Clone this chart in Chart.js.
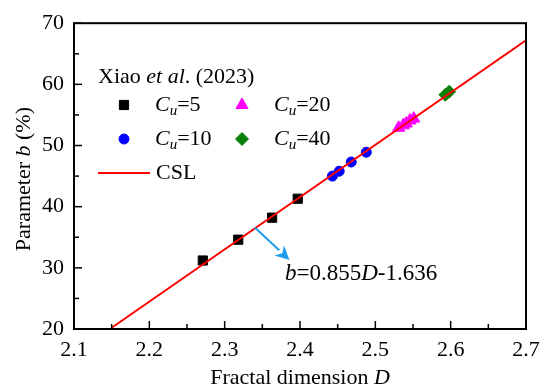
<!DOCTYPE html>
<html>
<head>
<meta charset="utf-8">
<script src="https://cdn.jsdelivr.net/npm/chart.js@4.4.1/dist/chart.umd.min.js"></script>
<style>
  html, body { margin: 0; padding: 0; background: #fff; }
  #wrap { width: 549px; height: 391px; }
</style>
</head>
<body>
<div id="wrap"><canvas id="chart" width="549" height="391"></canvas></div>
<script>
// data (D, b in %)
const cu5 = [
  { x: 2.271, y: 31.2 },
  { x: 2.318, y: 34.6 },
  { x: 2.363, y: 38.2 },
  { x: 2.397, y: 41.3 },
];
const cu10 = [
  { x: 2.443, y: 45.0 },
  { x: 2.452, y: 45.8 },
  { x: 2.468, y: 47.3 },
  { x: 2.488, y: 48.9 },
];
const cu20 = [
  { x: 2.531, y: 52.9 },
  { x: 2.537, y: 53.3 },
  { x: 2.541, y: 53.6 },
  { x: 2.546, y: 54.1 },
  { x: 2.551, y: 54.4 },
];
const cu40 = [
  { x: 2.593, y: 58.3 },
  { x: 2.598, y: 58.8 },
];
const cslLine = [
  { x: 2.15, y: 20.2 },
  { x: 2.7, y: 67.2 },
];
const xTicks = [2.1, 2.2, 2.3, 2.4, 2.5, 2.6, 2.7];
const yTicks = [20, 30, 40, 50, 60, 70];
const arrowFrom = { x: 2.340, y: 36.6 };
const arrowTo = { x: 2.386, y: 31.3 };
const eqAnchor = { x: 2.380, y: 29.0 };

const FONT = '"Liberation Serif", "Times New Roman", serif';
const SIZE = 22;

// draw text made of pieces, some italic / subscript
function richText(ctx, parts, x, y, align, size) {
  const sz = size || SIZE;
  const fontFor = (p) => (p.italic ? 'italic ' : '') + (p.sub ? Math.round(sz * 0.7) : sz) + 'px ' + FONT;
  let total = 0;
  parts.forEach((p) => { ctx.font = fontFor(p); total += ctx.measureText(p.t).width; });
  let cx = align === 'center' ? x - total / 2 : x;
  ctx.textBaseline = 'middle';
  ctx.textAlign = 'left';
  parts.forEach((p) => {
    ctx.font = fontFor(p);
    ctx.fillText(p.t, cx, p.sub ? y + 6 : y);
    cx += ctx.measureText(p.t).width;
  });
}

const framePlugin = {
  id: 'frame',
  afterDraw(chart) {
    const ctx = chart.ctx;
    const a = chart.chartArea;
    const xs = chart.scales.x, ys = chart.scales.y;
    ctx.save();
    ctx.strokeStyle = '#000';
    ctx.fillStyle = '#000';
    ctx.lineWidth = 2;
    ctx.strokeRect(a.left, a.top, a.right - a.left, a.bottom - a.top);

    // inward ticks, minor ones halfway
    ctx.lineWidth = 1.5;
    xTicks.forEach((v, i) => {
      const px = xs.getPixelForValue(v);
      ctx.beginPath(); ctx.moveTo(px, a.bottom); ctx.lineTo(px, a.bottom - 8); ctx.stroke();
      if (i < xTicks.length - 1) {
        const mx = xs.getPixelForValue((v + xTicks[i + 1]) / 2);
        ctx.beginPath(); ctx.moveTo(mx, a.bottom); ctx.lineTo(mx, a.bottom - 5); ctx.stroke();
      }
    });
    yTicks.forEach((v, i) => {
      const py = ys.getPixelForValue(v);
      ctx.beginPath(); ctx.moveTo(a.left, py); ctx.lineTo(a.left + 8, py); ctx.stroke();
      if (i < yTicks.length - 1) {
        const my = ys.getPixelForValue((v + yTicks[i + 1]) / 2);
        ctx.beginPath(); ctx.moveTo(a.left, my); ctx.lineTo(a.left + 5, my); ctx.stroke();
      }
    });

    // axis titles
    richText(ctx, [{ t: 'Fractal dimension ' }, { t: 'D', italic: true }], (a.left + a.right) / 2, 378, 'center');
    ctx.save();
    ctx.translate(24, (a.top + a.bottom) / 2 + 3);
    ctx.rotate(-Math.PI / 2);
    richText(ctx, [{ t: 'Parameter ' }, { t: 'b', italic: true }, { t: ' (%)' }], 0, 0, 'center');
    ctx.restore();

    // arrow to the fit line
    const x1 = xs.getPixelForValue(arrowFrom.x), y1 = ys.getPixelForValue(arrowFrom.y);
    const x2 = xs.getPixelForValue(arrowTo.x), y2 = ys.getPixelForValue(arrowTo.y);
    const ang = Math.atan2(y2 - y1, x2 - x1);
    const head = 14, half = 7;
    const bx = x2 - head * Math.cos(ang), by = y2 - head * Math.sin(ang);
    ctx.strokeStyle = '#1e9cf0';
    ctx.fillStyle = '#1e9cf0';
    ctx.lineWidth = 2;
    ctx.beginPath(); ctx.moveTo(x1, y1); ctx.lineTo(bx, by); ctx.stroke();
    ctx.beginPath();
    ctx.moveTo(x2, y2);
    ctx.lineTo(bx + half * Math.sin(ang), by - half * Math.cos(ang));
    ctx.lineTo(x2 - head * 0.7 * Math.cos(ang), y2 - head * 0.7 * Math.sin(ang));
    ctx.lineTo(bx - half * Math.sin(ang), by + half * Math.cos(ang));
    ctx.closePath();
    ctx.fill();

    // fit equation
    ctx.fillStyle = '#000';
    richText(ctx, [
      { t: 'b', italic: true }, { t: '=0.855' }, { t: 'D', italic: true }, { t: '-1.636' },
    ], xs.getPixelForValue(eqAnchor.x), ys.getPixelForValue(eqAnchor.y), 'left', 23);

    // legend
    const ds = chart.data.datasets;
    richText(ctx, [{ t: 'Xiao ' }, { t: 'et al', italic: true }, { t: '. (2023)' }], 98, 77, 'left');
    const items = [
      { d: ds[0], mx: 124, my: 105, tx: 155, val: '5' },
      { d: ds[2], mx: 242, my: 105, tx: 274, val: '20' },
      { d: ds[1], mx: 124, my: 139, tx: 155, val: '10' },
      { d: ds[3], mx: 242, my: 139, tx: 274, val: '40' },
    ];
    items.forEach((it) => {
      ctx.fillStyle = it.d.backgroundColor;
      ctx.strokeStyle = it.d.backgroundColor;
      ctx.lineWidth = 1;
      Chart.helpers.drawPoint(ctx, { pointStyle: it.d.pointStyle, radius: it.d.pointRadius, rotation: 0, borderWidth: 1 }, it.mx, it.my);
      ctx.fillStyle = '#000';
      richText(ctx, [{ t: 'C', italic: true }, { t: 'u', italic: true, sub: true }, { t: '=' + it.val }], it.tx, it.my, 'left');
    });
    ctx.strokeStyle = ds[4].borderColor;
    ctx.lineWidth = 2;
    ctx.beginPath(); ctx.moveTo(98, 173); ctx.lineTo(150, 173); ctx.stroke();
    ctx.fillStyle = '#000';
    richText(ctx, [{ t: 'CSL' }], 156, 173, 'left');
    ctx.restore();
  },
};

const pointSet = (label, data, color, style, r) => ({
  label, data, type: 'scatter',
  backgroundColor: color, borderColor: color, borderWidth: 1,
  pointStyle: style, pointRadius: r, pointHoverRadius: r,
  showLine: false, order: 1,
});

new Chart(document.getElementById('chart').getContext('2d'), {
  type: 'scatter',
  data: {
    datasets: [
      pointSet('Cu=5', cu5, '#000000', 'rect', 6.5),
      pointSet('Cu=10', cu10, '#0000ff', 'circle', 5),
      pointSet('Cu=20', cu20, '#ff00ff', 'triangle', 7),
      pointSet('Cu=40', cu40, '#0b800b', 'rectRot', 6.5),
      {
        label: 'CSL', data: cslLine, type: 'line', showLine: true,
        borderColor: '#ff0000', borderWidth: 2, pointRadius: 0, fill: false, order: 0,
      },
    ],
  },
  options: {
    responsive: false,
    animation: false,
    layout: { padding: { top: 21, right: 23, left: 0, bottom: 0 } },
    plugins: { legend: { display: false }, tooltip: { enabled: false } },
    scales: {
      x: {
        type: 'linear', min: 2.1, max: 2.7,
        afterBuildTicks: (s) => { s.ticks = xTicks.map((v) => ({ value: v })); },
        afterFit: (s) => { s.height = 62; },
        grid: { display: false, drawTicks: false },
        border: { display: false },
        ticks: {
          color: '#000', padding: 8, maxRotation: 0,
          font: { family: FONT, size: SIZE },
          callback: (v) => Number(v).toFixed(1),
        },
      },
      y: {
        type: 'linear', min: 20, max: 70,
        afterBuildTicks: (s) => { s.ticks = yTicks.map((v) => ({ value: v })); },
        afterFit: (s) => { s.width = 74; },
        grid: { display: false, drawTicks: false },
        border: { display: false },
        ticks: {
          color: '#000', padding: 10,
          font: { family: FONT, size: SIZE },
        },
      },
    },
  },
  plugins: [framePlugin],
});
</script>
</body>
</html>
